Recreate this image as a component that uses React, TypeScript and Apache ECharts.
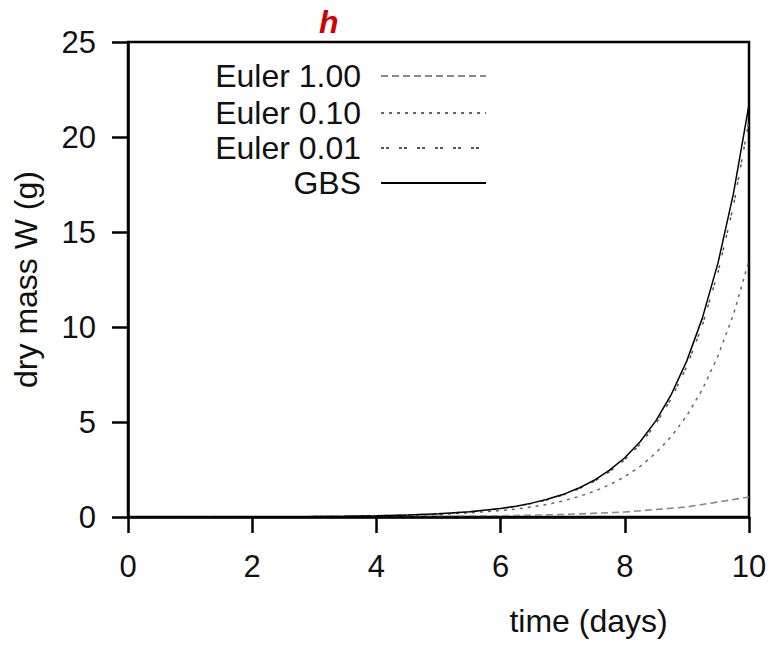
import React, { useEffect, useRef } from "react";
import * as echarts from "echarts";

// time grid (days) for the fine-step solutions
const timeFine = [0, 0.5, 1, 1.5, 2, 2.5, 3, 3.5, 4, 4.5, 5, 5.5, 6, 6.25, 6.5, 6.75, 7, 7.25, 7.5, 7.75, 8, 8.25, 8.5, 8.75, 9, 9.25, 9.5, 9.75, 10];
// dry mass W (g)
const gbs = [0.0013, 0.0022, 0.0035, 0.0057, 0.0093, 0.015, 0.024, 0.04, 0.064, 0.105, 0.17, 0.28, 0.45, 0.57, 0.73, 0.93, 1.18, 1.51, 1.92, 2.45, 3.12, 3.97, 5.06, 6.46, 8.23, 10.48, 13.36, 17.03, 21.7];
const euler001 = [0.0013, 0.002, 0.0035, 0.0059, 0.0089, 0.0147, 0.0235, 0.039, 0.063, 0.103, 0.167, 0.274, 0.44, 0.556, 0.71, 0.9, 1.15, 1.47, 1.86, 2.37, 3.02, 3.84, 4.89, 6.24, 7.94, 10.1, 12.87, 16.38, 20.85];
const euler010 = [0.0013, 0.002, 0.0033, 0.0053, 0.0084, 0.0133, 0.021, 0.034, 0.053, 0.085, 0.134, 0.215, 0.34, 0.42, 0.53, 0.67, 0.84, 1.07, 1.34, 1.69, 2.12, 2.67, 3.37, 4.24, 5.34, 6.72, 8.47, 10.66, 13.5];
// Euler with step 1.00 day
const timeCoarse = [0, 1, 2, 3, 4, 5, 6, 7, 8, 9, 10];
const euler100 = [0.001, 0.002, 0.004, 0.008, 0.016, 0.033, 0.066, 0.13, 0.26, 0.53, 1.05];

const xTicks = [0, 2, 4, 6, 8, 10];
const yTicks = [0, 5, 10, 15, 20, 25];

const seriesNames = ["Euler 1.00", "Euler 0.10", "Euler 0.01", "GBS"];
const seriesColors = ["#8a8a8a", "#666", "#555", "#000"];
const seriesDash: any[] = [[7, 4], [3, 5], [3, 2, 3, 10], "solid"];

const FONT = "Liberation Sans, Arial, sans-serif";

function pairs(t: number[], v: number[]) {
  return t.map((x, i) => [x, v[i]]);
}

export default function App() {
  const ref = useRef<HTMLDivElement>(null);
  useEffect(() => {
    if (!ref.current) return;
    const chart = echarts.init(ref.current, undefined, { renderer: "svg" });
    const legendTops = [60, 97, 132, 167];
    const legends = seriesNames.map((name, i) => ({
      data: [name],
      orient: "vertical",
      right: 289,
      top: legendTops[i],
      padding: 0,
      align: "right",
      itemWidth: 105,
      itemHeight: 30,
      selectedMode: false,
      itemStyle: { opacity: 0, borderWidth: 0 },
      textStyle: {
        fontFamily: FONT,
        fontSize: 32,
        color: "#111",
        lineHeight: 30,
        padding: [0, 15, 0, 0],
      },
    }));
    const lineBase = { type: "line", symbol: "none", showSymbol: false, smooth: false };
    const dataSets = [pairs(timeCoarse, euler100), pairs(timeFine, euler010), pairs(timeFine, euler001), pairs(timeFine, gbs)];
    chart.setOption({
      animation: false,
      backgroundColor: "#ffffff",
      title: {
        text: "h",
        left: 319,
        top: 6,
        padding: 0,
        textStyle: {
          color: "#d00000",
          fontStyle: "italic",
          fontWeight: "bold",
          fontSize: 32,
          fontFamily: FONT,
        },
      },
      legend: legends,
      grid: {
        left: 128,
        right: 27,
        top: 42,
        bottom: 128,
        show: true,
        borderColor: "#000",
        borderWidth: 2.5,
        backgroundColor: "transparent",
      },
      xAxis: {
        type: "value",
        min: xTicks[0],
        max: xTicks[xTicks.length - 1],
        interval: 2,
        z: 10,
        name: "time (days)",
        nameLocation: "middle",
        nameGap: 88,
        nameTextStyle: {
          fontFamily: FONT,
          fontSize: 32,
          color: "#111",
          padding: [0, 0, 0, 300],
        },
        axisLine: { show: true, onZero: false, lineStyle: { color: "#000", width: 2.5 } },
        axisTick: { show: true, inside: false, length: 16, lineStyle: { color: "#000", width: 2.5 } },
        splitLine: { show: false },
        axisLabel: { fontFamily: FONT, fontSize: 31, color: "#111", margin: 34 },
      },
      yAxis: {
        type: "value",
        min: yTicks[0],
        max: yTicks[yTicks.length - 1],
        interval: 5,
        z: 10,
        name: "dry mass W (g)",
        nameLocation: "middle",
        nameGap: 86,
        nameRotate: 90,
        nameTextStyle: { fontFamily: FONT, fontSize: 32, color: "#111" },
        axisLine: { show: true, onZero: false, lineStyle: { color: "#000", width: 2.5 } },
        axisTick: { show: true, inside: false, length: 16, lineStyle: { color: "#000", width: 2.5 } },
        splitLine: { show: false },
        axisLabel: { fontFamily: FONT, fontSize: 31, color: "#111", margin: 32 },
      },
      series: seriesNames.map((name, i) => ({
        ...lineBase,
        name,
        data: dataSets[i],
        color: seriesColors[i],
        lineStyle: { color: seriesColors[i], width: i === 0 ? 1.6 : 1.5, type: seriesDash[i] },
      })),
    });
    return () => chart.dispose();
  }, []);
  return (
    <div
      ref={ref}
      style={{ position: "fixed", left: 0, top: 0, width: 776, height: 645, background: "#fff" }}
    />
  );
}
